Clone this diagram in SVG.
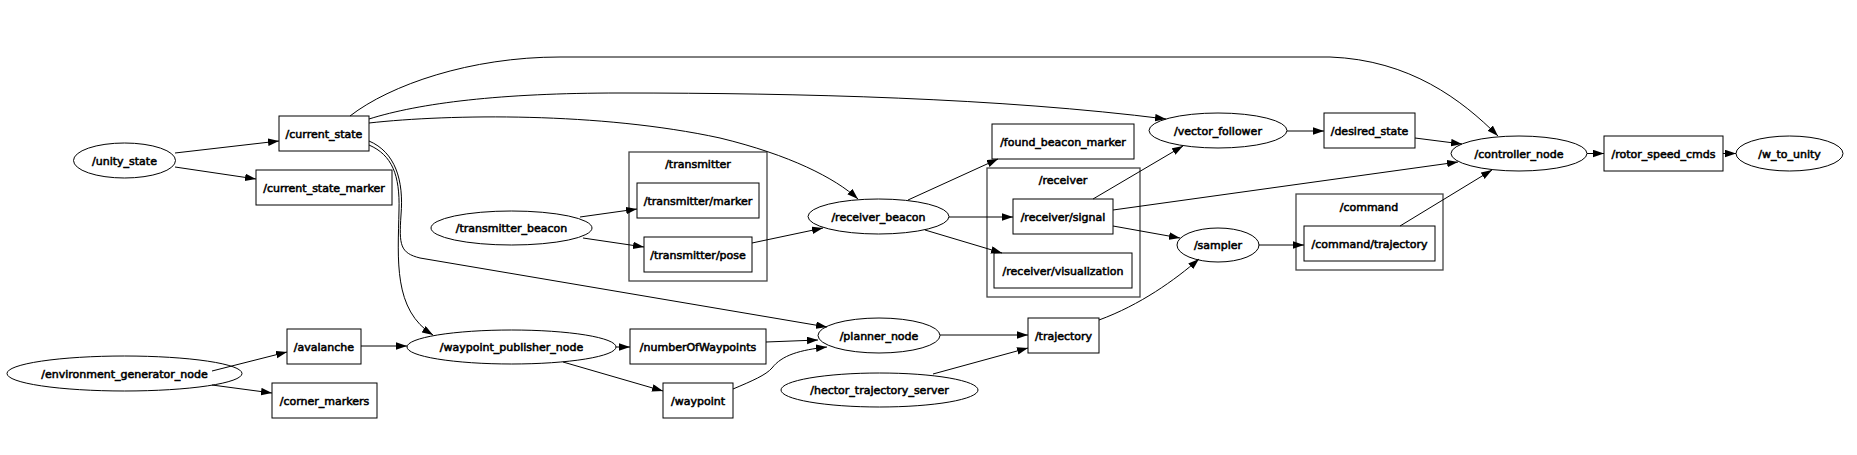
<svg xmlns="http://www.w3.org/2000/svg" width="1857" height="455" viewBox="0 0 1857 455">
<style>
text{font-family:"DejaVu Sans",sans-serif;font-size:11px;fill:#000;stroke:#000;stroke-width:0.55;text-anchor:middle}
.n ellipse,.n rect{fill:none;stroke:#000;stroke-width:1}
.c rect{fill:none;stroke:#444;stroke-width:1.3}
#edges path{fill:none;stroke:#000;stroke-width:1;marker-end:url(#ah)}
</style>
<defs>
<marker id="ah" markerUnits="userSpaceOnUse" markerWidth="11" markerHeight="8" refX="11" refY="3.75" orient="auto">
<path d="M0,0 L11,3.75 L0,7.5 z" fill="#000" stroke="none"/>
</marker>
</defs>
<rect width="1857" height="455" fill="#fff"/>
<g id="cluster_transmitter" class="c"><rect x="629" y="152" width="138" height="129"/><text x="698" y="168">/transmitter</text></g>
<g id="cluster_receiver" class="c"><rect x="987" y="168" width="153" height="129"/><text x="1063" y="184">/receiver</text></g>
<g id="cluster_command" class="c"><rect x="1296" y="194" width="147" height="76"/><text x="1369" y="211">/command</text></g>
<g id="edges">
<path d="M175,153 L279,141"/>
<path d="M175,167 L256,179"/>
<path d="M350,116 C390,85 470,57 560,57 L1330,57 C1410,60 1462,100 1498,136"/>
<path d="M369,119 C420,103 500,93 620,93 C800,93 1000,98 1166,119"/>
<path d="M369,123 C450,114 600,112 720,138 C790,155 835,178 858,199"/>
<path d="M369,145 C392,155 400,175 399,210 C398,260 393,310 433,335"/>
<path d="M369,141 C395,152 404,180 401,215 C399,245 400,253 420,258 L827,327"/>
<path d="M580,217 L637,209"/>
<path d="M583,238 L644,247"/>
<path d="M752,243 L823,228"/>
<path d="M908,200 L998,159"/>
<path d="M949,217 L1013,217"/>
<path d="M925,230 L1002,253"/>
<path d="M1093,199 L1183,146"/>
<path d="M1113,210 L1458,162"/>
<path d="M1113,226 L1180,238"/>
<path d="M1287,131 L1324,131"/>
<path d="M1415,138 L1462,144"/>
<path d="M1259,245 L1304,245"/>
<path d="M1400,226 L1492,170"/>
<path d="M1587,153.5 L1604,153.5"/>
<path d="M1723,153.5 L1736,153.5"/>
<path d="M212,371 L287,352"/>
<path d="M212,385 L272,393"/>
<path d="M361,346 L407,346"/>
<path d="M616,347 L630,347"/>
<path d="M563,362 L663,391"/>
<path d="M766,342 L818,340"/>
<path d="M733,389 C752,381 766,375 772,368 C782,355 800,350 827,347"/>
<path d="M940,335 L1028,335"/>
<path d="M933,374 L1028,348"/>
<path d="M1099,320 C1140,305 1175,280 1199,259"/>
</g>
<g id="unity_state" class="n"><ellipse cx="124.5" cy="160.5" rx="51" ry="17.5"/><text x="124.5" y="164.5">/unity_state</text></g>
<g id="current_state" class="n"><rect x="279" y="116" width="90" height="35"/><text x="324" y="137.5">/current_state</text></g>
<g id="current_state_marker" class="n"><rect x="256" y="170" width="136" height="35"/><text x="324" y="191.5">/current_state_marker</text></g>
<g id="transmitter_beacon" class="n"><ellipse cx="511.5" cy="228" rx="80.5" ry="17"/><text x="511.5" y="232">/transmitter_beacon</text></g>
<g id="transmitter_marker" class="n"><rect x="637" y="183" width="122" height="35"/><text x="698" y="204.5">/transmitter/marker</text></g>
<g id="transmitter_pose" class="n"><rect x="644" y="237" width="108" height="35"/><text x="698" y="258.5">/transmitter/pose</text></g>
<g id="receiver_beacon" class="n"><ellipse cx="878.5" cy="216.5" rx="70.5" ry="17.5"/><text x="878.5" y="220.5">/receiver_beacon</text></g>
<g id="found_beacon_marker" class="n"><rect x="992" y="124" width="142" height="35"/><text x="1063" y="145.5">/found_beacon_marker</text></g>
<g id="receiver_signal" class="n"><rect x="1013" y="199" width="100" height="35"/><text x="1063" y="220.5">/receiver/signal</text></g>
<g id="receiver_visualization" class="n"><rect x="994" y="253" width="138" height="35"/><text x="1063" y="274.5">/receiver/visualization</text></g>
<g id="vector_follower" class="n"><ellipse cx="1218" cy="130.5" rx="69" ry="17.5"/><text x="1218" y="134.5">/vector_follower</text></g>
<g id="desired_state" class="n"><rect x="1324" y="113" width="91" height="35"/><text x="1369.5" y="134.5">/desired_state</text></g>
<g id="controller_node" class="n"><ellipse cx="1519" cy="153.5" rx="68" ry="17.5"/><text x="1519" y="157.5">/controller_node</text></g>
<g id="sampler" class="n"><ellipse cx="1218" cy="245" rx="41" ry="17"/><text x="1218" y="249">/sampler</text></g>
<g id="command_trajectory" class="n"><rect x="1304" y="226" width="131" height="35"/><text x="1369.5" y="247.5">/command/trajectory</text></g>
<g id="rotor_speed_cmds" class="n"><rect x="1604" y="136" width="119" height="35"/><text x="1663.5" y="157.5">/rotor_speed_cmds</text></g>
<g id="w_to_unity" class="n"><ellipse cx="1789.5" cy="153.5" rx="53.5" ry="17.5"/><text x="1789.5" y="157.5">/w_to_unity</text></g>
<g id="environment_generator_node" class="n"><ellipse cx="124.5" cy="373.5" rx="117.5" ry="17.5"/><text x="124.5" y="377.5">/environment_generator_node</text></g>
<g id="avalanche" class="n"><rect x="287" y="329" width="74" height="35"/><text x="324" y="350.5">/avalanche</text></g>
<g id="corner_markers" class="n"><rect x="272" y="383" width="105" height="35"/><text x="324.5" y="404.5">/corner_markers</text></g>
<g id="waypoint_publisher_node" class="n"><ellipse cx="511.5" cy="347" rx="104.5" ry="17"/><text x="511.5" y="351">/waypoint_publisher_node</text></g>
<g id="numberOfWaypoints" class="n"><rect x="630" y="329" width="136" height="35"/><text x="698" y="350.5">/numberOfWaypoints</text></g>
<g id="waypoint" class="n"><rect x="663" y="383" width="70" height="35"/><text x="698" y="404.5">/waypoint</text></g>
<g id="planner_node" class="n"><ellipse cx="879" cy="335.5" rx="61" ry="17.5"/><text x="879" y="339.5">/planner_node</text></g>
<g id="hector_trajectory_server" class="n"><ellipse cx="879.5" cy="390" rx="98.5" ry="17"/><text x="879.5" y="394">/hector_trajectory_server</text></g>
<g id="trajectory" class="n"><rect x="1028" y="318" width="71" height="35"/><text x="1063.5" y="339.5">/trajectory</text></g>
</svg>
